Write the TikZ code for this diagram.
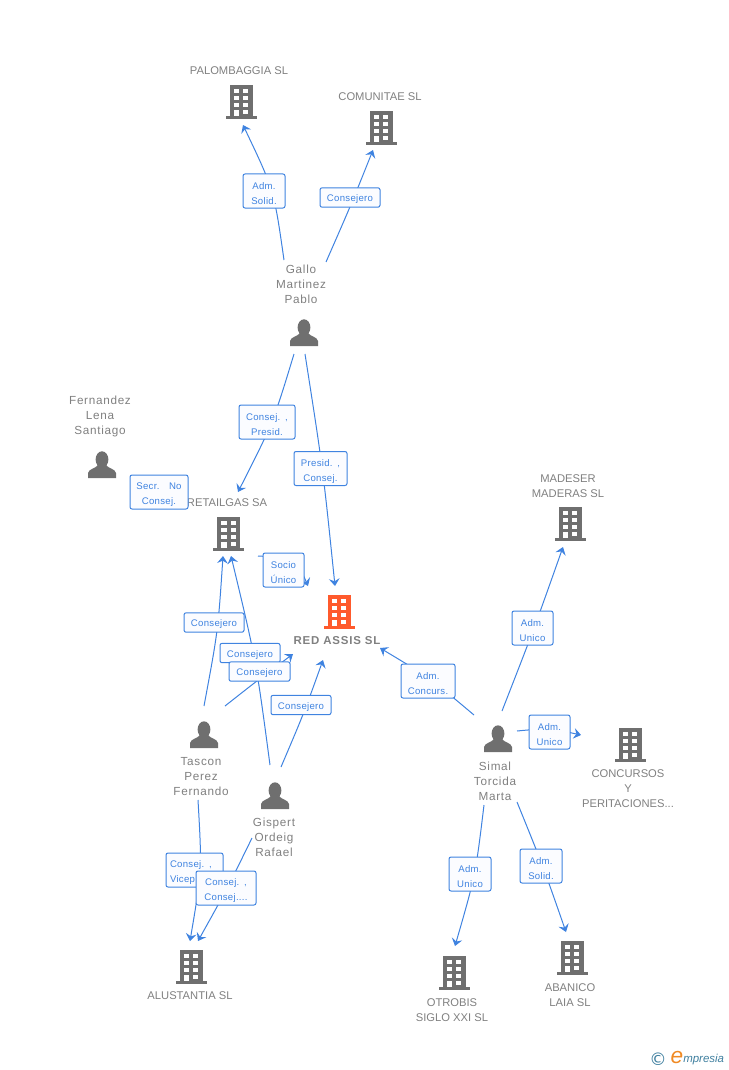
\documentclass[tikz,border=0pt]{standalone}
\usepackage{fontspec}
\setmainfont{Liberation Sans}
\newfontfamily\symfont{DejaVu Sans}
\usetikzlibrary{arrows.meta,backgrounds}
\definecolor{icongray}{HTML}{6F6F6F}
\definecolor{textgray}{HTML}{808080}
\definecolor{linkblue}{HTML}{3F83E0}
\definecolor{boxfill}{HTML}{FBFCFF}
\definecolor{redicon}{HTML}{FF5A2C}
\definecolor{logoteal}{HTML}{3F7F9F}
\definecolor{logoorange}{HTML}{F08A24}
\newcommand{\rolestruth}{11pt}
\tikzset{
  x=.75pt,y=-.75pt,
  pics/building/.style={code={
    \fill[#1] (-11.5,-17) rectangle (11.5,14);
    \fill[#1] (-15.5,14) rectangle (15.5,17);
    \fill[white] (-7.2,-13) rectangle (-2,-8.7);
    \fill[white] (2,-13) rectangle (7.2,-8.7);
    \fill[white] (-7.2,-6) rectangle (-2,-1.7);
    \fill[white] (2,-6) rectangle (7.2,-1.7);
    \fill[white] (-7.2,1) rectangle (-2,5.3);
    \fill[white] (2,1) rectangle (7.2,5.3);
    \fill[white] (-7.2,8) rectangle (-2,14);
    \fill[white] (2,8) rectangle (7.2,12.3);
  }},
  pics/person/.style={code={
    \fill[icongray] (0,-5.5) ellipse [x radius=6.4,y radius=8.2];
    \fill[icongray] (-14,13) -- (-14,8) .. controls (-13,3.5) and (-7,4) .. (-4,0)
      -- (4,0) .. controls (7,4) and (13,3.5) .. (14,8) -- (14,13) -- cycle;
  }},
  entity/.style={text=textgray,font=\fontsize{8.4pt}{11.25pt}\selectfont,align=center,inner sep=0pt},
  mainentity/.style={entity,font=\bfseries\fontsize{8.6pt}{11.25pt}\selectfont\addfontfeature{LetterSpace=7}},
  personname/.style={entity,font=\fontsize{8.8pt}{11.25pt}\selectfont\addfontfeature{LetterSpace=6}},
  rolebox/.style={draw=linkblue,fill=boxfill,rounded corners=1.5pt,line width=.75pt,text=linkblue,
    font=\fontsize{7.2pt}{11.25pt}\selectfont\addfontfeature{LetterSpace=3},align=center,inner sep=0pt,minimum height=25.5pt,
    execute at begin node={\rule[-2pt]{0pt}{\rolestruth}}},
  bw/.style={minimum width=#1*0.75pt,text width=#1*0.75pt},
  thin box/.style={minimum height=14.5pt,/utils/exec={\renewcommand{\rolestruth}{10pt}}},
  link/.style={draw=linkblue,line width=.75pt},
  arrowlink/.style={link,-{Stealth[length=5.5pt,width=8pt,inset=2pt]}},
}
\newcommand{\via}[3]{\draw[arrowlink] (#1) .. controls (#2) .. (#3);}
\begin{document}
\begin{tikzpicture}
\useasboundingbox (0,0) rectangle (728,1070);
% icons
\pic at (241,102) {building=icongray};
\pic at (381,128) {building=icongray};
\pic at (228.5,534) {building=icongray};
\pic at (339,612) {building=redicon};
\pic at (570,524) {building=icongray};
\pic at (630,745) {building=icongray};
\pic at (191,967) {building=icongray};
\pic at (454,973) {building=icongray};
\pic at (572,958) {building=icongray};
\pic at (304,333) {person};
\pic at (102,465) {person};
\pic at (204,735) {person};
\pic at (275,796) {person};
\pic at (498,739) {person};
% names
\node[entity] (palombaggia) at (239,71) {PALOMBAGGIA SL};
\node[entity] (comunitae) at (380,97) {COMUNITAE SL};
\node[entity] (retailgas) at (227,503) {RETAILGAS SA};
\node[mainentity] (red) at (337,641) {RED ASSIS SL};
\node[entity] (madeser) at (568,486) {MADESER\\MADERAS SL};
\node[entity] (concursos) at (628,789) {CONCURSOS\\Y\\PERITACIONES...};
\node[entity] (alustantia) at (190,996) {ALUSTANTIA SL};
\node[entity] (otrobis) at (452,1010) {OTROBIS\\SIGLO XXI SL};
\node[entity] (abanico) at (570,995) {ABANICO\\LAIA SL};
\node[personname] (gallo) at (301,284) {Gallo\\Martinez\\Pablo};
\node[personname] (fernandez) at (100,416) {Fernandez\\Lena\\Santiago};
\node[personname] (tascon) at (201,777) {Tascon\\Perez\\Fernando};
\node[personname] (gispert) at (274,837) {Gispert\\Ordeig\\Rafael};
\node[personname] (simal) at (495,781) {Simal\\Torcida\\Marta};
% role boxes
\node[rolebox,bw=42] (r1) at (264,191) {Adm.\\Solid.};
\node[rolebox,bw=60,thin box] (r2) at (350,197.5) {Consejero};
\node[rolebox,bw=56] (r3) at (267,422) {Consej. ,\\Presid.};
\node[rolebox,bw=53] (r4) at (320.5,468.5) {Presid. ,\\Consej.};
\node[rolebox,bw=58] (r5) at (159,492) {Secr.\ \ \ No\\Consej.};
\node[rolebox,bw=41] (r6) at (283.5,570) {Socio\\Único};
\node[rolebox,bw=60,thin box] (r7) at (214,622.5) {Consejero};
\node[rolebox,bw=60,thin box] (r8) at (250,653) {Consejero};
\node[rolebox,bw=61,thin box] (r9) at (259.5,671.5) {Consejero};
\node[rolebox,bw=60,thin box] (r10) at (301,705) {Consejero};
\node[rolebox,bw=54] (r11) at (428,681) {Adm.\\Concurs.};
\node[rolebox,bw=41] (r12) at (532.5,628) {Adm.\\Unico};
\node[rolebox,bw=41] (r13) at (549.5,732) {Adm.\\Unico};
\node[rolebox,bw=42] (r14) at (541,866) {Adm.\\Solid.};
\node[rolebox,bw=42] (r15) at (470,874) {Adm.\\Unico};
\node[rolebox,minimum width=42.75pt,text width=36.75pt,align=left] (r16) at (194.5,870) {Consej. ,\\Vicep};
\node[rolebox,bw=60] (r17) at (226,888) {Consej. ,\\Consej....};
% free ends and bends
\coordinate (a1) at (284,260); \coordinate (c1) at (274,190); \coordinate (b1) at (243,125);
\coordinate (a2) at (326,262); \coordinate (c2) at (351,205); \coordinate (b2) at (373,150);
\coordinate (a3) at (294,354); \coordinate (c3) at (273,423); \coordinate (b3) at (238,492);
\coordinate (a4) at (305,354); \coordinate (c4) at (323,469); \coordinate (b4) at (335,586);
\coordinate (a6) at (258,556); \coordinate (c6) at (296,558); \coordinate (b6) at (308,586);
\coordinate (a7) at (204,706); \coordinate (c7) at (218,631); \coordinate (b7) at (223,556);
\coordinate (a8) at (270,765); \coordinate (c8) at (256,660); \coordinate (b8) at (231,556);
\coordinate (a9) at (225,706); \coordinate (c9) at (258,680); \coordinate (b9) at (293,654);
\coordinate (a10) at (281,767); \coordinate (c10) at (304,713); \coordinate (b10) at (323,660);
\coordinate (a11) at (198,800); \coordinate (c11) at (202,870); \coordinate (b11) at (190,941);
\coordinate (a12) at (252,838); \coordinate (c12) at (227,889); \coordinate (b12) at (198,941);
\coordinate (a13) at (474,715); \coordinate (c13) at (430,678); \coordinate (b13) at (380,648);
\coordinate (a14) at (502,711); \coordinate (c14) at (534,629); \coordinate (b14) at (563,547);
\coordinate (a15) at (517,731); \coordinate (c15) at (549,728); \coordinate (b15) at (581,735);
\coordinate (a16) at (484,805); \coordinate (c16) at (475.5,875); \coordinate (b16) at (455,946);
\coordinate (a17) at (517,802); \coordinate (c17) at (543,866); \coordinate (b17) at (566,932);
\begin{scope}[on background layer]
  \via{a1}{c1}{b1}
  \via{a2}{c2}{b2}
  \via{a3}{c3}{b3}
  \via{a4}{c4}{b4}
  \via{a6}{c6}{b6}
  \via{a7}{c7}{b7}
  \via{a8}{c8}{b8}
  \via{a9}{c9}{b9}
  \via{a10}{c10}{b10}
  \via{a11}{c11}{b11}
  \via{a12}{c12}{b12}
  \via{a13}{c13}{b13}
  \via{a14}{c14}{b14}
  \via{a15}{c15}{b15}
  \via{a16}{c16}{b16}
  \via{a17}{c17}{b17}
\end{scope}
% logo
\node[inner sep=0pt,text=logoteal,font=\symfont\fontsize{13pt}{13pt}\selectfont] (copy) at (658,1059) {©};
\node[inner sep=0pt,text=logoorange,font=\itshape\fontsize{17pt}{17pt}\selectfont] (logoe) at (677,1057) {e};
\node[inner sep=0pt,text=logoteal,anchor=west,font=\itshape\fontsize{8.6pt}{11pt}\selectfont] (logotext) at (683,1060) {mpresia};
\end{tikzpicture}
\end{document}
